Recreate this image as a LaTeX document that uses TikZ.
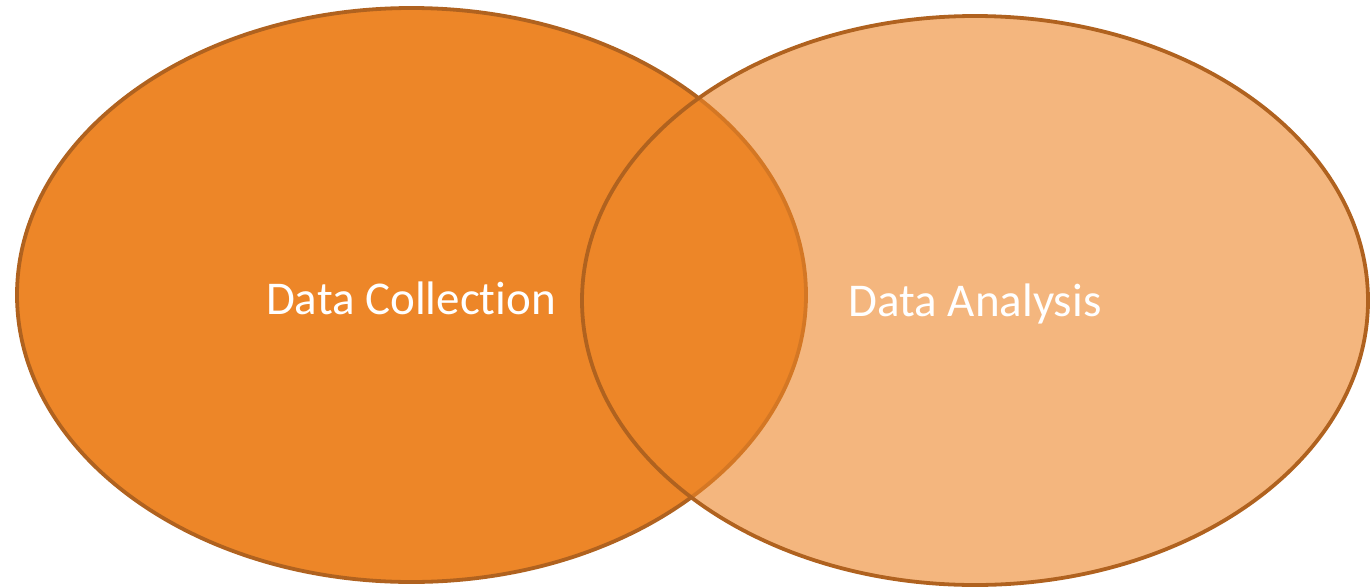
\documentclass[tikz,border=0pt]{standalone}
\usepackage{fontspec}
\setmainfont{Carlito}[Ligatures={NoCommon,NoContextual}]
\definecolor{fillor}{HTML}{ED8628}
\definecolor{edgeor}{HTML}{B0621F}
\begin{document}
\begin{tikzpicture}[x=1pt,y=-1pt,
  setcircle/.style={draw=edgeor,line width=3.8pt,fill=fillor},
  setlabel/.style={text=white,font=\fontsize{47}{56}\selectfont}]
\useasboundingbox (0,0) rectangle (1370,587);
\path[setcircle] (411.5,295) ellipse [x radius=394.5,y radius=287];
\path[setcircle,fill opacity=0.6] (975,300.5) ellipse [x radius=393,y radius=284.5];
\node[setlabel] (dc) at (411,298) {Data Collec\kern0pt tion};
\node[setlabel] (da) at (975,304) {Data Analysis};
\end{tikzpicture}
\end{document}
